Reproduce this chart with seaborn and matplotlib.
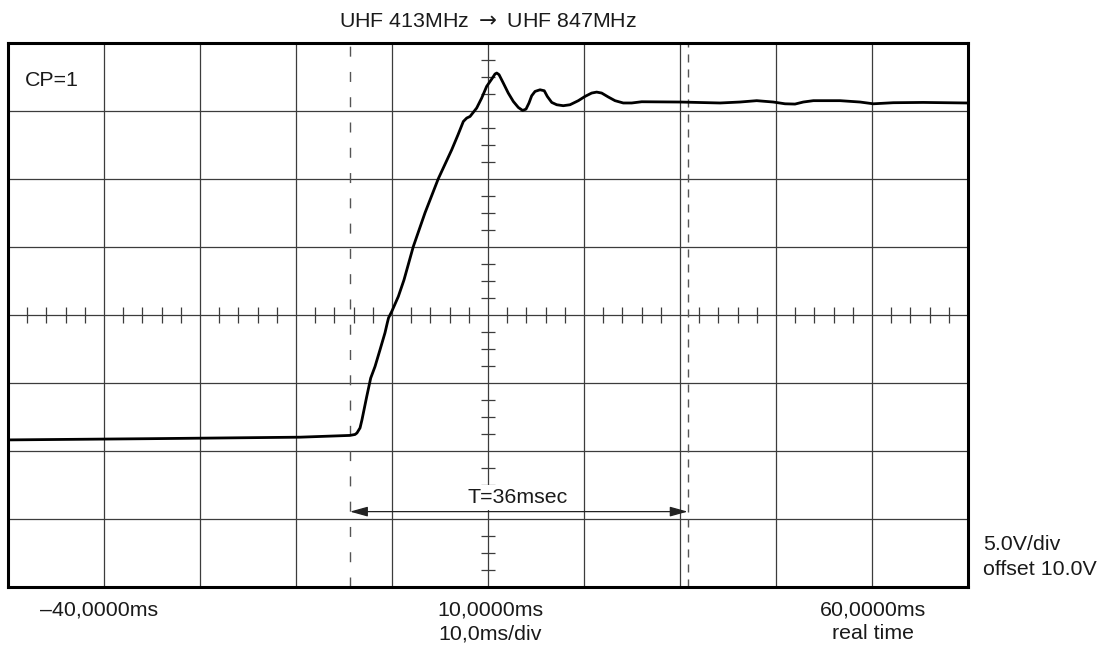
import numpy as np
import pandas as pd
import matplotlib
matplotlib.use("Agg")
import matplotlib.pyplot as plt
import seaborn as sns

# ---- data (time in ms, signal in volts) ----
time_ms = [-40.0, -25.21, -9.58, -4.38, -3.85, -3.65, -3.33, -3.13, -2.64, -2.22,
           -1.77, -1.25, -0.73, -0.49, -0.36, -0.03, 0.66, 1.25, 2.22, 3.44,
           4.82, 6.22, 6.88, 7.43, 7.78, 8.13, 8.82, 9.34, 9.86, 10.39,
           10.73, 10.91, 11.15, 11.59, 12.11, 12.64, 13.16, 13.61, 13.96, 14.27,
           14.55, 14.90, 15.42, 15.86, 16.18, 16.64, 17.16, 17.84, 18.54, 19.41,
           20.10, 20.80, 21.32, 21.84, 22.53, 23.23, 24.09, 24.97, 26.01, 30.0,
           34.17, 36.25, 37.99, 39.72, 40.94, 41.98, 42.84, 43.89, 46.67, 48.75,
           50.14, 52.22, 55.34, 59.90]
volts = [0.81, 0.90, 1.01, 1.14, 1.21, 1.32, 1.69, 2.28, 3.97, 5.35,
         6.20, 7.43, 8.68, 9.41, 9.78, 10.24, 11.35, 12.57, 15.02, 17.50,
         20.00, 22.13, 23.24, 24.21, 24.46, 24.58, 25.20, 25.93, 26.79, 27.33,
         27.70, 27.77, 27.65, 27.04, 26.30, 25.68, 25.24, 25.02, 25.12, 25.57,
         26.10, 26.42, 26.54, 26.47, 26.05, 25.61, 25.44, 25.37, 25.44, 25.74,
         26.05, 26.30, 26.37, 26.30, 26.01, 25.74, 25.57, 25.57, 25.66, 25.64,
         25.57, 25.64, 25.74, 25.64, 25.51, 25.49, 25.64, 25.74, 25.74, 25.64,
         25.51, 25.59, 25.61, 25.57]

marker_start_ms = -4.38
marker_end_ms = 30.8
settle_label = "T=36msec"
title_text = "UHF 413MHz $\\rightarrow$ UHF 847MHz"
channel_label = "CP=1"
x_labels_top = ["\u201340,0000ms", "10,0000ms", "60,0000ms"]
x_labels_bottom = ["", "10,0ms/div", "real time"]
y_scale_labels = ["5.0V/div", "offset 10.0V"]

# display settings
x_min, x_max, x_div = -40, 60, 10
y_min, y_max, y_div = -10, 30, 5
center_x, center_y = 10, 10

sns.set_style("white")
plt.rcParams["font.family"] = ["Liberation Sans", "DejaVu Sans"]
plt.rcParams["lines.scale_dashes"] = False
plt.rcParams["mathtext.fontset"] = "dejavusans"

W, H = 1111, 650
fig = plt.figure(figsize=(W / 100, H / 100), dpi=100)
ax = fig.add_axes([8 / W, 63 / H, 960 / W, 544.3 / H])
ax.set_xlim(x_min, x_max)
ax.set_ylim(y_min, y_max)

grid_c = "#3c3c3c"
for gx in np.arange(x_min + x_div, x_max, x_div):
    ax.axvline(gx, color=grid_c, lw=0.9, zorder=1)
for gy in np.arange(y_min + y_div, y_max, y_div):
    ax.axhline(gy, color=grid_c, lw=0.9, zorder=1)

# minor ticks on the centre crosshair
xt = [v for v in np.arange(x_min, x_max + 0.01, x_div / 5) if abs(v % x_div) > 1e-6]
ax.vlines(xt, center_y - 0.59, center_y + 0.59, color=grid_c, lw=0.9, zorder=1)
yt = [v for v in np.arange(y_min, y_max + 0.01, y_div / 4) if abs(v % y_div) > 1e-6]
ax.hlines(yt, center_x - 0.78, center_x + 0.78, color=grid_c, lw=0.9, zorder=1)

# cursor lines
ax.axvline(marker_start_ms, color="#555555", lw=1.0, ls=(0, (7.2, 11)), zorder=2)
ax.axvline(marker_end_ms, color="#555555", lw=1.0, ls=(0, (5.8, 5)), zorder=2)

df = pd.DataFrame({"t": time_ms, "v": volts})
sns.lineplot(data=df, x="t", y="v", color="black", lw=2.0, ax=ax,
             sort=False, estimator=None, zorder=5)

arrow_y = -4.46
ax.annotate("", xy=(marker_start_ms, arrow_y), xytext=(marker_end_ms, arrow_y),
            arrowprops=dict(arrowstyle="<|-|>,head_length=0.9,head_width=0.25",
                            shrinkA=0, shrinkB=0, color="#222222", lw=0.9,
                            mutation_scale=12), zorder=4)
fs = 15.4
ax.text(13.1, -3.82, settle_label, ha="center", va="baseline", fontsize=fs, color="#1a1a1a",
        bbox=dict(boxstyle="square,pad=0.15", fc="white", ec="none"), zorder=3)

ax.set_xlabel("")
ax.set_ylabel("")
ax.set_xticks([])
ax.set_yticks([])
for s in ax.spines.values():
    s.set_visible(True)
    s.set_linewidth(2.2)
    s.set_color("black")

txt_c = "#1a1a1a"
fig.text(488 / W, 1 - 26.7 / H, title_text, ha="center", va="baseline", fontsize=fs, color=txt_c)
fig.text(25 / W, 1 - 86 / H, channel_label, ha="left", va="baseline", fontsize=fs, color=txt_c)
label_px = [99, 490, 873]
for px, t1, t2 in zip(label_px, x_labels_top, x_labels_bottom):
    fig.text(px / W, 1 - 616 / H, t1, ha="center", va="baseline", fontsize=fs, color=txt_c)
    if t2:
        fig.text(px / W, 1 - 639 / H, t2, ha="center", va="baseline", fontsize=fs, color=txt_c)
for i, t in enumerate(y_scale_labels):
    fig.text(983 / W, 1 - (550 + 25 * i) / H, t, ha="left", va="baseline", fontsize=fs, color=txt_c)

fig.savefig("out.png", dpi=100)
